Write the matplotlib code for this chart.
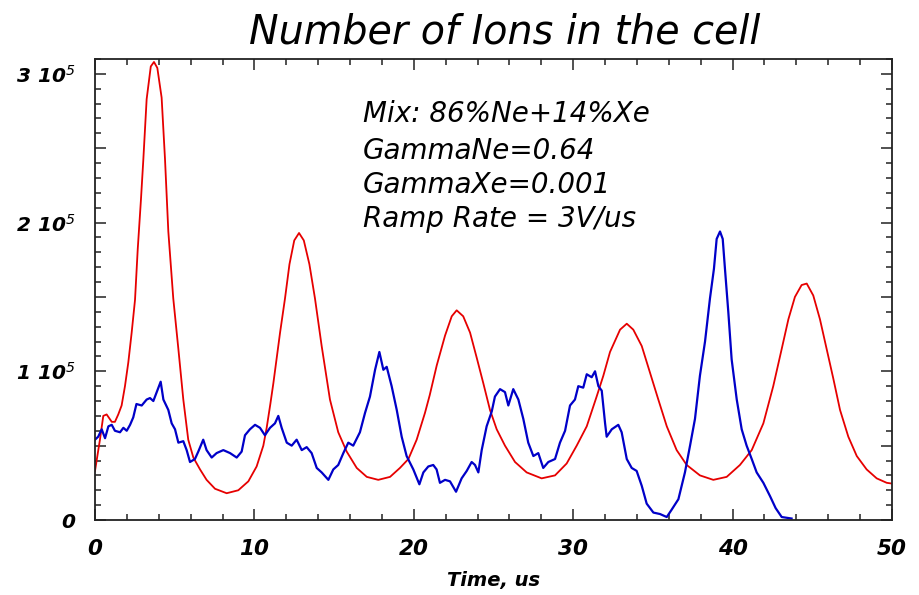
import matplotlib
matplotlib.use('Agg')
import matplotlib.pyplot as plt
from matplotlib.ticker import MultipleLocator, FuncFormatter
import numpy as np

plt.rcParams['font.family'] = ['DejaVu Sans']
plt.rcParams['mathtext.fontset'] = 'custom'
plt.rcParams['mathtext.rm'] = 'DejaVu Sans:italic'
plt.rcParams['mathtext.it'] = 'DejaVu Sans:italic'

# Lecturas de la figura (y en unidades de 1e5 iones)
red_t = [0.0, 0.31, 0.52, 0.73, 1.05, 1.25, 1.46, 1.67, 1.88, 2.09, 2.3, 2.51, 2.68, 2.88,
         3.03, 3.24, 3.5, 3.7, 3.91, 4.18, 4.39, 4.6, 4.91, 5.23, 5.54, 5.85, 6.17, 6.59,
         7.0, 7.53, 8.26, 8.99, 9.62, 10.14, 10.56, 10.77, 11.0, 11.19, 11.61, 11.92, 12.2,
         12.5, 12.8, 13.1, 13.45, 13.8, 14.22, 14.74, 15.26, 15.79, 16.42, 17.05, 17.77,
         18.51, 19.13, 19.66, 20.18, 20.7, 21.0, 21.44, 21.96, 22.38, 22.69, 23.1, 23.53,
         23.95, 24.36, 24.78, 25.2, 25.72, 26.35, 27.08, 28.02, 28.86, 29.59, 30.22, 30.85,
         31.47, 31.89, 32.31, 32.94, 33.36, 33.77, 34.3, 34.82, 35.34, 35.87, 36.49, 37.12,
         37.95, 38.79, 39.63, 40.46, 41.2, 41.93, 42.55, 43.08, 43.5, 43.91, 44.33, 44.65,
         45.06, 45.48, 45.9, 46.32, 46.74, 47.26, 47.79, 48.41, 49.04, 49.67, 50.0]
red_n = [0.33, 0.54, 0.70, 0.71, 0.66, 0.66, 0.71, 0.77, 0.90, 1.06, 1.26, 1.48, 1.82, 2.15,
         2.42, 2.83, 3.05, 3.08, 3.04, 2.84, 2.43, 1.94, 1.49, 1.15, 0.81, 0.54, 0.42, 0.34,
         0.27, 0.21, 0.18, 0.20, 0.26, 0.36, 0.50, 0.62, 0.78, 0.92, 1.26, 1.49, 1.72,
         1.88, 1.93, 1.88, 1.72, 1.49, 1.17, 0.81, 0.59, 0.46, 0.35, 0.29, 0.27,
         0.29, 0.35, 0.41, 0.54, 0.72, 0.84, 1.04, 1.24, 1.37, 1.41, 1.37, 1.26,
         1.09, 0.92, 0.74, 0.61, 0.50, 0.39, 0.32, 0.28, 0.30, 0.38, 0.50, 0.63,
         0.83, 0.97, 1.13, 1.28, 1.32, 1.28, 1.17, 0.99, 0.81, 0.63, 0.47, 0.37,
         0.30, 0.27, 0.29, 0.37, 0.47, 0.65, 0.90, 1.15, 1.35, 1.50, 1.58, 1.59,
         1.51, 1.35, 1.15, 0.95, 0.74, 0.56, 0.43, 0.34, 0.28, 0.25, 0.245]

blue_t = [0.0, 0.2, 0.42, 0.63, 0.84, 1.05, 1.25, 1.57, 1.78, 1.99, 2.2, 2.4, 2.6, 2.93, 3.24,
          3.45, 3.66, 3.87, 4.12, 4.29, 4.6, 4.81, 5.02, 5.23, 5.54, 5.75, 5.96, 6.27, 6.48,
          6.79, 7.0, 7.32, 7.63, 8.05, 8.47, 8.89, 9.2, 9.41, 9.72, 10.04, 10.35, 10.66,
          10.98, 11.29, 11.5, 11.71, 12.03, 12.34, 12.65, 12.97, 13.28, 13.59, 13.91, 14.22,
          14.64, 14.95, 15.26, 15.58, 15.89, 16.2, 16.62, 16.94, 17.25, 17.57, 17.84, 18.09,
          18.3, 18.61, 18.93, 19.24, 19.55, 19.97, 20.35, 20.6, 20.91, 21.22, 21.43, 21.64,
          21.96, 22.27, 22.65, 23.0, 23.32, 23.63, 23.84, 24.05, 24.26, 24.57, 24.89, 25.09,
          25.41, 25.72, 25.93, 26.24, 26.56, 26.87, 27.18, 27.5, 27.81, 28.12, 28.44, 28.86,
          29.17, 29.49, 29.8, 30.11, 30.32, 30.63, 30.85, 31.16, 31.37, 31.58, 31.79, 32.0,
          32.1, 32.42, 32.83, 33.04, 33.36, 33.67, 33.98, 34.3, 34.61, 35.03, 35.45, 35.87,
          36.18, 36.6, 37.01, 37.33, 37.64, 37.95, 38.27, 38.58, 38.83, 39.0, 39.21, 39.38,
          39.52, 39.73, 39.94, 40.26, 40.57, 40.88, 41.2, 41.51, 41.93, 42.35, 42.7, 43.08,
          43.7]
blue_n = [0.54, 0.56, 0.61, 0.55, 0.63, 0.64, 0.60, 0.59, 0.62, 0.60, 0.64, 0.69, 0.78, 0.77, 0.81,
          0.82, 0.80, 0.86, 0.93, 0.81, 0.74, 0.65, 0.61, 0.52, 0.53, 0.47, 0.39, 0.41, 0.46,
          0.54, 0.47, 0.42, 0.45, 0.47, 0.45, 0.42, 0.46, 0.57, 0.61, 0.64, 0.62, 0.57,
          0.62, 0.65, 0.70, 0.62, 0.52, 0.50, 0.54, 0.47, 0.49, 0.45, 0.35, 0.32,
          0.27, 0.34, 0.37, 0.45, 0.52, 0.50, 0.59, 0.72, 0.83, 1.01, 1.13, 1.01,
          1.03, 0.90, 0.74, 0.56, 0.43, 0.34, 0.24, 0.32, 0.36, 0.37, 0.34, 0.25,
          0.27, 0.26, 0.19, 0.28, 0.33, 0.39, 0.37, 0.32, 0.47, 0.63, 0.73, 0.83,
          0.88, 0.86, 0.77, 0.88, 0.81, 0.68, 0.52, 0.43, 0.45, 0.35, 0.39, 0.41,
          0.52, 0.60, 0.77, 0.81, 0.90, 0.89, 0.98, 0.96, 1.00, 0.90, 0.87, 0.65,
          0.56, 0.61, 0.64, 0.59, 0.41, 0.35, 0.33, 0.23, 0.11, 0.05, 0.04, 0.02,
          0.07, 0.14, 0.32, 0.50, 0.68, 0.97, 1.20, 1.49, 1.69, 1.89, 1.94, 1.89,
          1.69, 1.40, 1.08, 0.81, 0.61, 0.50, 0.41, 0.32, 0.25, 0.16, 0.08, 0.02,
          0.01]

info_lines = ['Mix: 86%Ne+14%Xe', 'GammaNe=0.64', 'GammaXe=0.001', 'Ramp Rate = 3V/us']

fig = plt.figure(figsize=(9.19, 5.95), dpi=100)
ax = fig.add_axes([95 / 919, 1 - 520 / 595, (892 - 95) / 919, (520 - 59) / 595])

ax.plot(red_t, np.array(red_n) * 1e5, color='#e60000', lw=1.3)
ax.plot(blue_t, np.array(blue_n) * 1e5, color='#0000c8', lw=1.6)

ax.set_xlim(0, 50)
ax.set_ylim(0, 3.1e5)

ax.xaxis.set_major_locator(MultipleLocator(10))
ax.xaxis.set_minor_locator(MultipleLocator(2))
ax.yaxis.set_major_locator(MultipleLocator(0.5e5))
ax.yaxis.set_minor_locator(MultipleLocator(0.1e5))


def ylab(v, pos):
    k = int(round(v / 1e5))
    if abs(v - k * 1e5) > 1:
        return ''
    if k == 0:
        return '0'
    return '%d 10$^{5}$' % k


ax.yaxis.set_major_formatter(FuncFormatter(ylab))
ax.xaxis.set_major_formatter(FuncFormatter(lambda v, p: '%d' % v))

ax.tick_params(which='both', direction='in', top=True, right=True, color='#222222', width=1.1)
ax.tick_params(which='major', length=8)
ax.tick_params(which='minor', length=4)
ax.tick_params(axis='x', pad=14)
ax.tick_params(axis='y', pad=14)
for lab in ax.get_xticklabels():
    lab.set_fontsize(15.5)
    lab.set_fontweight('bold')
    lab.set_fontstyle('italic')
for lab in ax.get_yticklabels():
    lab.set_fontsize(14.5)
    lab.set_fontweight('bold')
    lab.set_fontstyle('italic')
for s in ax.spines.values():
    s.set_linewidth(1.3)
    s.set_color('#222222')

ax.set_xlabel('Time, us', fontsize=14, fontweight='bold', fontstyle='italic', labelpad=8)

fig.text(505 / 919, 1 - 43 / 595, 'Number of Ions in the cell', fontsize=28.5,
         fontstyle='italic', ha='center', va='baseline')

for i, line in enumerate(info_lines):
    base = [122, 159, 193, 227][i]
    fig.text(363 / 919, 1 - base / 595, line, fontsize=20, fontstyle='italic',
             ha='left', va='baseline')

fig.savefig('out.png', dpi=100)
